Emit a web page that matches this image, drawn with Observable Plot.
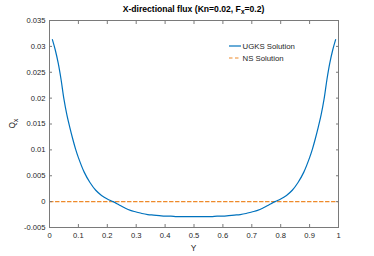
<!DOCTYPE html>
<html><head><meta charset="utf-8">
<script src="https://cdn.jsdelivr.net/npm/d3@7"></script>
<script src="https://cdn.jsdelivr.net/npm/@observablehq/plot@0.6"></script>
<style>body{margin:0;background:#fff} svg{display:block}</style>
</head><body><div id="chart"></div><script>
const posY = [0.01,0.02,0.03,0.04,0.05,0.06,0.07,0.08,0.09,0.10,0.12,0.14,0.16,0.18,0.20,0.22,0.24,0.26,0.28,0.30,0.32,0.34,0.36,0.38,0.40,0.42,0.44,0.46,0.48,0.50,0.52,0.54,0.56,0.58,0.60,0.62,0.64,0.66,0.68,0.70,0.72,0.74,0.76,0.78,0.80,0.82,0.84,0.86,0.88,0.90,0.91,0.92,0.93,0.94,0.95,0.96,0.97,0.98,0.99];
const ugksQx = [0.0313,0.0293,0.0268,0.0236,0.0198,0.0168,0.0144,0.0122,0.0102,0.0085,0.0057,0.0037,0.0022,0.0012,0.0005,0.0000,-0.0006,-0.0012,-0.0017,-0.0020,-0.0023,-0.0025,-0.0026,-0.0027,-0.0028,-0.0028,-0.0029,-0.0029,-0.0029,-0.0029,
  -0.0029,-0.0029,-0.0029,-0.0028,-0.0028,-0.0027,-0.0026,-0.0025,-0.0023,-0.0020,-0.0017,-0.0012,-0.0006,0.0000,0.0005,0.0012,0.0022,0.0037,0.0057,0.0085,0.0102,0.0122,0.0144,0.0168,0.0198,0.0236,0.0268,0.0293,0.0313];
const nsPosY = [0, 1];
const nsQx = [0, 0];
const xTicks = [0,0.1,0.2,0.3,0.4,0.5,0.6,0.7,0.8,0.9,1];
const xTickLabels = ["0","0.1","0.2","0.3","0.4","0.5","0.6","0.7","0.8","0.9","1"];
const yTicks = [-0.005,0,0.005,0.01,0.015,0.02,0.025,0.03,0.035];
const yTickLabels = ["-0.005","0","0.005","0.01","0.015","0.02","0.025","0.03","0.035"];
const seriesNames = ["UGKS Solution","NS Solution"];
const seriesColors = ["#0072BD","#EE8A2A"];

const ugks = posY.map((y,i)=>({y, q: ugksQx[i]}));
const ns = nsPosY.map((y,i)=>({y, q: nsQx[i]}));
const xLab = new Map(xTicks.map((v,i)=>[v, xTickLabels[i]]));
const yLab = new Map(yTicks.map((v,i)=>[v, yTickLabels[i]]));
const axisCol = "#262626";
const font = "Liberation Sans, Arial, Helvetica, sans-serif";

const W = 374, H = 256, ML = 49, MR = 36, MT = 20, MB = 29;
const chart = Plot.plot({
  width: W, height: H,
  marginLeft: ML, marginRight: MR, marginTop: MT, marginBottom: MB,
  style: {fontFamily: font, fontSize: "7.6px", color: axisCol, background: "#fff"},
  x: {domain: [0,1]},
  y: {domain: [-0.005, 0.035]},
  marks: [
    Plot.line(ns, {x: "y", y: "q", stroke: seriesColors[1], strokeWidth: 1.2, strokeDasharray: "3.5,2.5"}),
    Plot.line(ugks, {x: "y", y: "q", stroke: seriesColors[0], strokeWidth: 1.2, curve: "catmull-rom"}),
    Plot.frame({stroke: "#7a7a7a", strokeWidth: 1}),
    Plot.axisX({anchor: "bottom", ticks: xTicks, tickFormat: d => xLab.get(d), tickSize: 0, tickPadding: 5, label: null, fill: axisCol}),
    Plot.axisX({anchor: "bottom", ticks: xTicks, text: null, tickSize: 3, dy: -3, stroke: "#7a7a7a", label: null}),
    Plot.axisX({anchor: "top", ticks: xTicks, text: null, tickSize: 3, dy: 3, stroke: "#7a7a7a", label: null}),
    Plot.axisY({anchor: "left", ticks: yTicks, tickFormat: d => yLab.get(d), tickSize: 0, tickPadding: 4, label: null, fill: axisCol}),
    Plot.axisY({anchor: "left", ticks: yTicks, text: null, tickSize: 3, dx: 3, stroke: "#7a7a7a", label: null}),
    Plot.axisY({anchor: "right", ticks: yTicks, text: null, tickSize: 3, dx: -3, stroke: "#7a7a7a", label: null})
  ]
});
document.getElementById("chart").appendChild(chart);

const svg = d3.select(chart);
const cx = ML + (W - ML - MR) / 2;
const t = svg.append("text").attr("x", cx).attr("y", 11.5).attr("text-anchor", "middle")
  .attr("font-family", font).attr("font-size", "8.6px").attr("font-weight", "bold").attr("fill", "#000");
t.append("tspan").text("X-directional flux (Kn=0.02, F");
t.append("tspan").attr("dy", 2.5).attr("font-size", "6.5px").text("x");
t.append("tspan").attr("dy", -2.5).text("=0.2)");

svg.append("text").attr("x", cx).attr("y", 251).attr("text-anchor", "middle")
  .attr("font-family", font).attr("font-size", "8.4px").attr("fill", axisCol).text("Y");

const yl = svg.append("text").attr("transform", `translate(15,${MT + (H - MT - MB) / 2}) rotate(-90)`).attr("text-anchor", "middle")
  .attr("font-family", font).attr("font-size", "8.4px").attr("fill", axisCol);
yl.append("tspan").text("Q");
yl.append("tspan").attr("dy", 2.5).attr("font-size", "6.5px").text("x");

const lg = svg.append("g").attr("font-family", font).attr("font-size", "7.8px").attr("fill", axisCol).attr("text-anchor", "start");
seriesNames.forEach((name, i) => {
  const yy = 46 + i * 12;
  lg.append("line").attr("x1", 229).attr("x2", 241).attr("y1", yy).attr("y2", yy)
    .attr("stroke", seriesColors[i]).attr("stroke-width", 1.2)
    .attr("stroke-dasharray", i ? "3.5,2.5" : null);
  lg.append("text").attr("x", 242.5).attr("y", yy + 2.8).attr("text-anchor", "start").text(name);
});
</script></body></html>
